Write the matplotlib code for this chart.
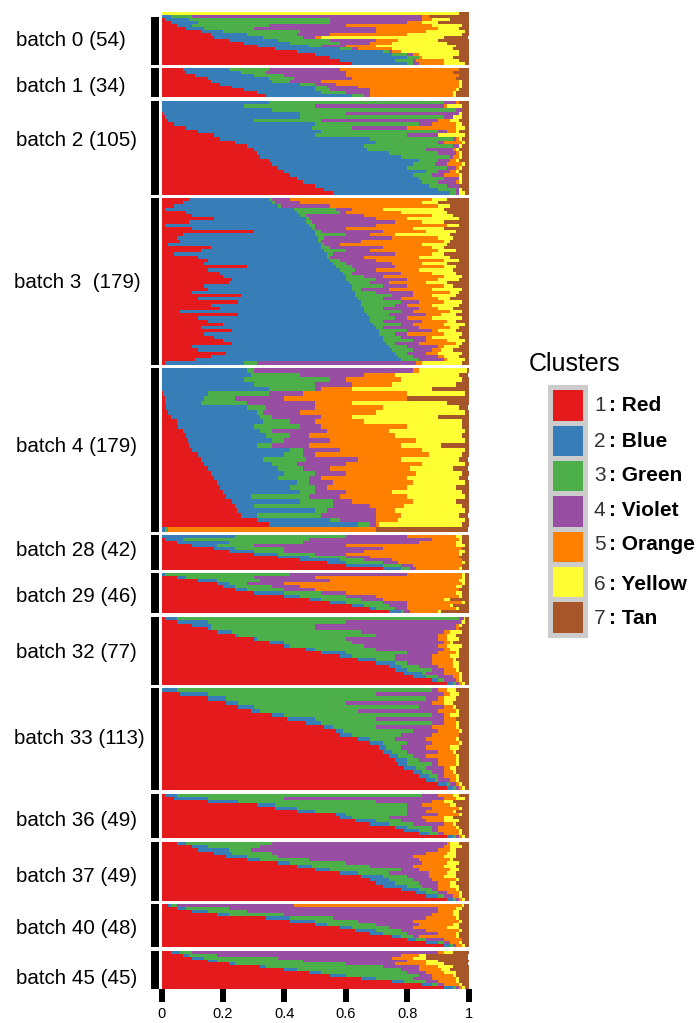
"""Structure-style barplot of cluster shares per batch. Writes out.png."""
import matplotlib
matplotlib.use("Agg")
import matplotlib.pyplot as plt
from matplotlib.patches import Rectangle
import numpy as np

plt.rcParams["font.family"] = ["Liberation Sans", "DejaVu Sans"]

COLORS = ["#e41a1c", "#377eb8", "#4daf4a", "#984ea3", "#ff7f00", "#ffff33", "#a65628"]
CLUSTER_NAMES = ["Red", "Blue", "Green", "Violet", "Orange", "Yellow", "Tan"]
X_TICKS = [0, 0.2, 0.4, 0.6, 0.8, 1]
X_TICK_LABELS = ["0", "0.2", "0.4", "0.6", "0.8", "1"]

BATCH_LABELS = ["batch 0 (54)", "batch 1 (34)", "batch 2 (105)", "batch 3  (179)", "batch 4 (179)",
                "batch 28 (42)", "batch 29 (46)", "batch 32 (77)", "batch 33 (113)", "batch 36 (49)",
                "batch 37 (49)", "batch 40 (48)", "batch 45 (45)"]

# each row: right edge of red, blue, green, violet, orange, yellow (tan fills up to 1)
BATCH_0 = [
    [0, 0, 0, 0, 0, .97], [0, .03, .10, .85, .87, .87], [.01, .09, .55, .85, .88, .94],
    [.03, .12, .55, .80, .85, .90], [.05, .10, .35, .60, .88, .98], [.08, .14, .30, .70, .90, .97],
    [.13, .20, .45, .70, .86, .99], [.16, .28, .44, .55, .80, .98], [.17, .33, .46, .50, .52, .92],
    [.22, .38, .55, .70, .77, .90], [.27, .42, .58, .68, .75, .93], [.31, .48, .52, .60, .70, .96],
    [.37, .58, .62, .64, .75, .95], [.44, .72, .74, .75, .78, .97], [.50, .75, .80, .82, .84, .97],
    [.55, .80, .84, .84, .85, .95], [.58, .76, .82, .83, .92, .97], [.62, .80, .82, .84, .92, .99],
]
BATCH_1 = [
    [.07, .22, .35, .58, .97, .97], [.08, .26, .34, .60, .95, .95], [.11, .30, .40, .60, .97, .97],
    [.15, .35, .43, .62, .96, .96], [.16, .36, .42, .52, .97, .98], [.19, .45, .50, .57, .97, .98],
    [.23, .50, .54, .64, .97, .98], [.27, .50, .55, .68, .96, .97], [.31, .52, .60, .68, .95, .96],
    [.34, .62, .66, .68, .95, .96],
]
BATCH_2 = [
    [0, .35, .92, .96, .97, .97], [0, .27, .50, .92, .93, .98], [.003, .36, .96, .98, .98, .98],
    [.005, .45, .60, .97, .97, .98], [.01, .45, .92, .95, .95, .98], [.02, .30, .52, .90, .94, .97],
    [.04, .50, .84, .88, .96, .98], [.08, .49, .62, .80, .96, .99], [.12, .52, .90, .93, .96, .97],
    [.17, .50, .80, .90, .90, .99], [.19, .68, .95, .96, .97, .98], [.24, .70, .90, .92, .98, .99],
    [.28, .66, .95, .97, .97, .98], [.30, .67, .86, .95, .96, .97], [.31, .74, .90, .96, .97, .98],
    [.32, .78, .94, .95, .97, .98], [.35, .84, .90, .94, .96, .97], [.36, .82, .89, .93, .98, .99],
    [.38, .80, .93, .96, .97, .98], [.40, .86, .90, .94, .96, .97], [.42, .82, .88, .92, .97, .98],
    [.44, .84, .92, .97, .97, .98], [.46, .85, .90, .96, .97, .98], [.50, .87, .93, .97, .97, .97],
    [.53, .90, .96, .97, .97, .98], [.56, .94, .96, .97, .97, .99],
]
BATCH_3 = [
    [.09, .35, .36, .42, .88, .93], [.07, .36, .37, .45, .85, .90], [.04, .38, .39, .55, .90, .94],
    [.01, .43, .57, .62, .72, .92], [.08, .44, .58, .60, .78, .93], [.10, .45, .47, .66, .88, .95],
    [.17, .47, .48, .70, .80, .97], [.09, .47, .49, .76, .85, .92], [.01, .48, .50, .70, .93, .97],
    [.10, .49, .50, .60, .82, .92], [.30, .50, .52, .72, .86, .96], [.07, .50, .60, .68, .76, .94],
    [.05, .51, .53, .75, .90, .95], [.06, .51, .52, .65, .92, .94], [.02, .52, .53, .58, .85, .93],
    [.16, .52, .55, .72, .88, .92], [.13, .53, .60, .68, .90, .96], [.04, .54, .56, .76, .88, .92],
    [.12, .54, .55, .66, .84, .94], [.15, .55, .58, .70, .92, .97], [.14, .56, .60, .75, .85, .93],
    [.28, .57, .62, .76, .92, .96], [.15, .58, .63, .70, .84, .95], [.19, .59, .62, .78, .88, .96],
    [.20, .60, .66, .72, .92, .98], [.23, .60, .70, .80, .90, .97], [.22, .61, .68, .74, .86, .93],
    [.14, .62, .72, .80, .92, .95], [.15, .62, .65, .74, .88, .98], [.10, .63, .70, .82, .94, .97],
    [.26, .63, .75, .82, .88, .96], [.12, .64, .72, .78, .90, .94], [.25, .65, .78, .84, .92, .98],
    [.16, .65, .76, .80, .88, .97], [.19, .66, .72, .84, .90, .95], [.06, .66, .78, .82, .94, .98],
    [.25, .67, .74, .86, .91, .96], [.12, .68, .76, .80, .88, .98], [.15, .68, .72, .85, .93, .96],
    [.20, .69, .78, .82, .92, .99], [.13, .70, .72, .84, .94, .97], [.23, .71, .80, .88, .90, .96],
    [.14, .71, .76, .80, .92, .98], [.17, .72, .78, .86, .88, .97], [.20, .72, .82, .86, .93, .99],
    [.23, .73, .76, .84, .96, .98], [.10, .74, .80, .90, .92, .97], [.12, .75, .82, .88, .91, .95],
    [.21, .76, .80, .86, .90, .98], [.16, .77, .82, .90, .92, .97], [.11, .78, .84, .92, .93, .99],
    [.01, .27, .31, .83, .85, .98],
]
BATCH_4 = [
    [0, .28, .30, .82, .84, .995], [0, .29, .45, .66, .76, .97], [.001, .27, .55, .60, .78, .98],
    [.002, .30, .50, .62, .75, .96], [.003, .35, .50, .52, .62, .88], [.005, .15, .35, .46, .80, .99],
    [.01, .14, .24, .40, .80, .78], [.012, .13, .28, .50, .62, .93], [.015, .28, .34, .50, .72, .97],
    [.02, .31, .33, .45, .70, .99], [.03, .32, .36, .52, .62, .90], [.05, .33, .42, .50, .66, .98],
    [.055, .30, .45, .52, .80, .98], [.07, .32, .36, .54, .74, .99], [.08, .34, .42, .48, .76, .98],
    [.085, .36, .40, .55, .83, .99], [.09, .31, .36, .48, .78, .91], [.10, .42, .46, .58, .85, .99],
    [.12, .40, .46, .50, .87, .98], [.13, .33, .47, .64, .78, .97], [.14, .36, .44, .60, .85, .99],
    [.15, .38, .46, .55, .81, .95], [.16, .40, .50, .60, .83, .98], [.17, .38, .48, .52, .80, .97],
    [.18, .44, .48, .56, .82, .99], [.19, .42, .50, .54, .80, .96], [.20, .45, .50, .60, .75, .98],
    [.21, .29, .48, .58, .80, .99], [.23, .45, .56, .62, .82, .96], [.24, .30, .56, .68, .79, .98],
    [.245, .50, .54, .70, .76, .99], [.26, .31, .52, .70, .78, .97], [.31, .55, .58, .70, .77, .99],
    [.35, .64, .68, .70, .71, .98], [0, .01, .02, .02, .70, .70],
]
BATCH_28 = [
    [0, .24, .60, .80, .96, .98], [.01, .07, .48, .88, .97, .98], [.05, .22, .46, .84, .96, .98],
    [.10, .18, .30, .60, .96, .99], [.17, .24, .40, .72, .98, .98], [.22, .30, .40, .66, .97, .99],
    [.30, .38, .50, .60, .97, .98], [.38, .48, .60, .68, .97, .97], [.45, .58, .66, .75, .98, .98],
    [.54, .60, .72, .77, .98, .99], [.60, .72, .78, .82, .98, .98], [.72, .78, .81, .83, .97, .98],
]
BATCH_29 = [
    [0, .01, .42, .80, .98, .99], [.05, .08, .30, .50, .98, .99], [.12, .18, .32, .55, .97, .99],
    [.18, .22, .28, .40, .98, .99], [.20, .24, .36, .45, .96, .98], [.24, .28, .40, .50, .97, .97],
    [.30, .40, .52, .60, .96, .98], [.40, .45, .60, .70, .97, .98], [.48, .52, .65, .72, .92, .94],
    [.55, .60, .72, .80, .98, .99], [.62, .66, .74, .80, .94, .95], [.68, .70, .76, .80, .96, .97],
    [.74, .78, .79, .81, .90, .91],
]
BATCH_32 = [
    [.01, .05, .97, .985, .985, .99], [.05, .15, .60, .975, .98, .99], [.10, .16, .50, .96, .97, .98],
    [.15, .16, .50, .96, .97, .97], [.18, .23, .65, .92, .94, .98], [.24, .25, .70, .90, .93, .96],
    [.30, .31, .60, .90, .93, .97], [.35, .40, .62, .92, .94, .95], [.40, .42, .66, .90, .93, .98],
    [.47, .50, .70, .92, .94, .97], [.52, .60, .80, .90, .96, .97], [.58, .62, .76, .88, .94, .97],
    [.64, .70, .76, .88, .95, .96], [.70, .76, .80, .88, .95, .97], [.74, .78, .84, .90, .95, .97],
    [.76, .80, .88, .92, .96, .97], [.79, .85, .86, .92, .97, .98], [.82, .86, .90, .95, .97, .98],
    [.88, .90, .92, .96, .97, .98], [.93, .95, .96, .97, .98, .99],
]
BATCH_33 = [
    [0, .05, .88, .90, .93, .96], [.06, .15, .70, .92, .94, .97], [.15, .21, .86, .90, .92, .96],
    [.21, .25, .60, .88, .92, .95], [.25, .30, .84, .92, .95, .96], [.29, .32, .64, .90, .96, .97],
    [.36, .40, .88, .92, .94, .97], [.41, .50, .70, .92, .96, .96], [.47, .52, .88, .92, .96, .97],
    [.53, .56, .70, .88, .96, .97], [.57, .59, .82, .90, .97, .98], [.58, .62, .78, .88, .97, .97],
    [.64, .68, .76, .86, .96, .97], [.68, .72, .80, .88, .97, .98], [.71, .73, .78, .86, .94, .97],
    [.72, .75, .80, .90, .95, .96], [.74, .77, .82, .86, .96, .97], [.76, .80, .84, .90, .96, .97],
    [.77, .80, .88, .90, .96, .97], [.79, .83, .86, .92, .94, .96], [.82, .85, .88, .92, .95, .96],
    [.84, .87, .90, .92, .96, .97], [.86, .89, .90, .94, .96, .97], [.90, .93, .94, .96, .97, .98],
    [.93, .95, .96, .97, .98, .99],
]
BATCH_36 = [
    [.01, .05, .85, .90, .95, .97], [.04, .15, .40, .92, .96, .99], [.15, .25, .70, .88, .92, .95],
    [.31, .37, .80, .85, .94, .96], [.37, .44, .80, .88, .97, .98], [.44, .50, .80, .86, .95, .96],
    [.57, .60, .80, .90, .97, .98], [.58, .62, .74, .85, .92, .95], [.63, .70, .78, .86, .92, .97],
    [.68, .74, .82, .92, .95, .96], [.76, .80, .88, .90, .96, .97], [.79, .84, .88, .90, .97, .98],
    [.84, .87, .90, .92, .97, .98], [.93, .95, .96, .97, .98, .99],
]
BATCH_37 = [
    [.05, .08, .36, .93, .94, .97], [.10, .15, .32, .92, .94, .98], [.12, .22, .29, .90, .94, .96],
    [.17, .23, .36, .86, .93, .96], [.21, .28, .38, .82, .92, .96], [.28, .32, .48, .84, .94, .95],
    [.38, .42, .60, .85, .93, .97], [.44, .49, .68, .82, .92, .96], [.50, .55, .78, .84, .94, .97],
    [.58, .64, .74, .87, .93, .96], [.65, .72, .80, .87, .92, .96], [.68, .74, .82, .88, .96, .97],
    [.70, .76, .84, .90, .94, .96], [.72, .80, .85, .90, .94, .97], [.78, .84, .88, .90, .96, .97],
    [.83, .86, .90, .93, .97, .98], [.86, .90, .92, .95, .97, .98], [.93, .95, .96, .97, .98, .99],
]
BATCH_40 = [
    [.02, .03, .05, .43, .98, .985], [.05, .08, .22, .90, .96, .98], [.10, .15, .28, .90, .95, .97],
    [.18, .22, .40, .88, .95, .97], [.34, .42, .56, .86, .96, .97], [.42, .50, .64, .82, .97, .98],
    [.50, .54, .70, .84, .95, .97], [.58, .62, .74, .82, .93, .97], [.63, .70, .78, .86, .97, .98],
    [.68, .72, .80, .90, .96, .97], [.75, .78, .82, .84, .96, .97], [.80, .83, .86, .92, .98, .98],
    [.86, .90, .92, .94, .97, .98], [.92, .94, .95, .96, .98, .99],
]
BATCH_45 = [
    [.03, .06, .10, .90, .92, .95], [.07, .09, .18, .78, .84, .86], [.10, .14, .38, .75, .82, .86],
    [.15, .18, .46, .80, .86, .90], [.22, .24, .60, .76, .86, .92], [.32, .34, .72, .84, .90, .95],
    [.40, .44, .78, .84, .91, .94], [.48, .52, .80, .86, .92, .96], [.55, .60, .84, .88, .95, .96],
    [.65, .70, .82, .88, .96, .97], [.75, .79, .86, .90, .96, .97], [.85, .88, .90, .92, .97, .98],
    [.92, .95, .96, .97, .98, .99],
]
BATCHES = [BATCH_0, BATCH_1, BATCH_2, BATCH_3, BATCH_4, BATCH_28, BATCH_29,
           BATCH_32, BATCH_33, BATCH_36, BATCH_37, BATCH_40, BATCH_45]

W, H = 700, 1023
X0, X1 = 161.5, 468.5
# vertical pixel extent of each batch panel
PANEL_PX = [(12.3, 65), (68.3, 97), (100.7, 195), (198, 364.5), (368, 531.7), (535.3, 570),
            (573.3, 612.7), (616.7, 685.3), (688.3, 790.3), (794, 838.3), (841.7, 901),
            (904.3, 947), (950.7, 989)]
LABEL_X = [16, 16, 16, 14, 16, 16, 16, 16, 14, 16, 16, 16, 16]
LABEL_Y = [40, 87, 141, 282, 447, 551, 596, 652, 738, 820, 876, 929, 979]
LEGEND_PX = [(390.3, 421), (425.7, 455.7), (461.3, 491), (496, 527), (531.7, 561.7), (567.3, 597.3), (602, 632.7)]
LEGEND_TEXT_Y = [405.7, 441.7, 475.7, 510, 545, 584, 618.3]


def draw_panel(ax, rows):
    rows = np.asarray(rows, dtype=float)
    edges = np.column_stack([np.zeros(len(rows)), rows, np.ones(len(rows))])
    edges = np.maximum.accumulate(edges, axis=1)
    y = np.arange(len(rows))
    for k, color in enumerate(COLORS):
        ax.barh(y, edges[:, k + 1] - edges[:, k], left=edges[:, k], height=1.0,
                color=color, linewidth=0)
    ax.set_xlim(0, 1)
    ax.set_ylim(len(rows) - 0.5, -0.5)
    ax.set_yticks([])
    ax.set_xticks([])
    for spine in ax.spines.values():
        spine.set_visible(False)


fig = plt.figure(figsize=(W / 100, H / 100), dpi=100)
over = fig.add_axes([0, 0, 1, 1])
over.set_xlim(0, W)
over.set_ylim(H, 0)
over.axis("off")

for i, (rows, (top, bottom)) in enumerate(zip(BATCHES, PANEL_PX)):
    ax = fig.add_axes([X0 / W, 1 - bottom / H, (X1 - X0) / W, (bottom - top) / H])
    draw_panel(ax, rows)
    bar_top = 17 if i == 0 else top
    over.add_patch(Rectangle((151, bar_top), 8, bottom - bar_top, color="black", linewidth=0))
    over.text(LABEL_X[i], LABEL_Y[i], BATCH_LABELS[i], fontsize=14.8, va="center", ha="left")

ax.set_xticks(X_TICKS)
ax.set_xticklabels(X_TICK_LABELS, fontsize=10.5)
ax.tick_params(axis="x", length=9.4, width=4.3, pad=3.5)

over.text(529, 364, "Clusters", fontsize=18, va="center", ha="left")
over.add_patch(Rectangle((548.3, 385), 39.4, 252.7, color="#cccccc", linewidth=0))
for k, (top, bottom) in enumerate(LEGEND_PX):
    over.add_patch(Rectangle((553, top), 30.3, bottom - top, color=COLORS[k], linewidth=0))
    over.text(594, LEGEND_TEXT_Y[k], str(k + 1), fontsize=15, va="center", ha="left", color="#333333")
    over.text(609, LEGEND_TEXT_Y[k], ": " + CLUSTER_NAMES[k], fontsize=15, fontweight="bold",
              va="center", ha="left")

fig.savefig("out.png", dpi=100)
